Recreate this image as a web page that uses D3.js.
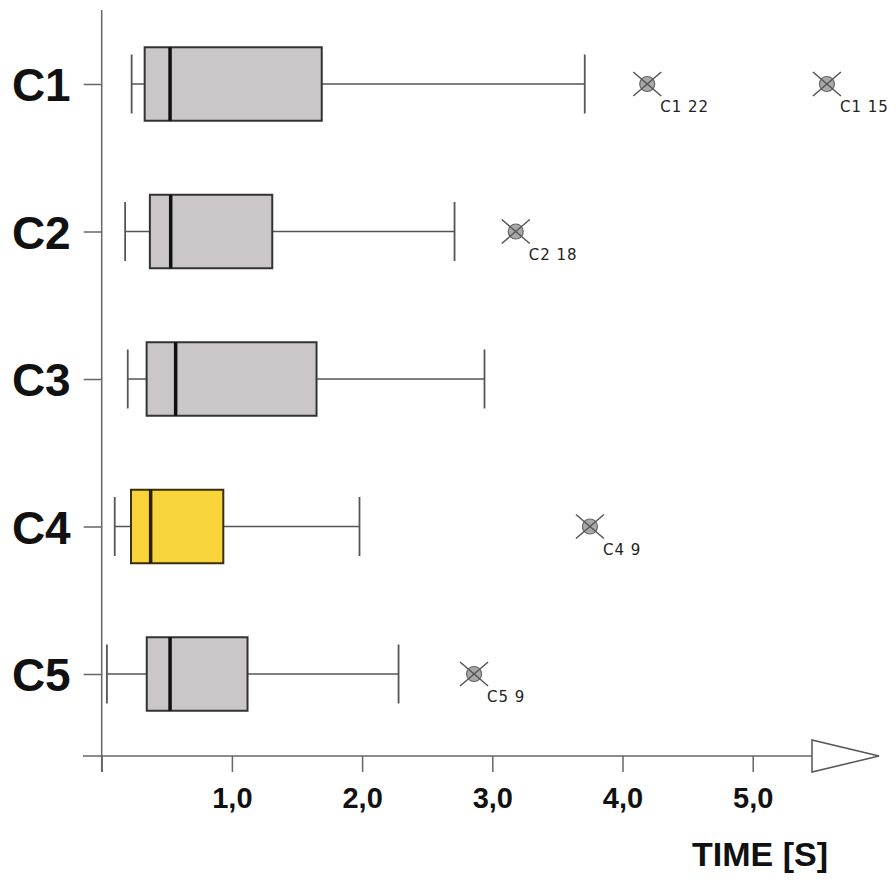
<!DOCTYPE html>
<html>
<head>
<meta charset="utf-8">
<script src="https://cdn.jsdelivr.net/npm/d3@7"></script>
<style>
  html, body { margin: 0; padding: 0; background: #fff; }
  svg { display: block; }
</style>
</head>
<body>
<svg id="chart" width="896" height="886"></svg>
<script>
// ---- data ----
const categories = ["C1", "C2", "C3", "C4", "C5"];
const whiskerLow  = [0.23, 0.18, 0.20, 0.10, 0.04];
const q1          = [0.33, 0.37, 0.345, 0.225, 0.346];
const medians     = [0.525, 0.53, 0.568, 0.376, 0.525];
const q3          = [1.69, 1.31, 1.65, 0.934, 1.12];
const whiskerHigh = [3.71, 2.71, 2.94, 1.98, 2.28];
const outlierCat   = ["C1", "C1", "C2", "C4", "C5"];
const outlierVal   = [4.19, 5.57, 3.18, 3.75, 2.86];
const outlierLabel = ["C1 22", "C1 15", "C2 18", "C4 9", "C5 9"];
const highlighted = ["C4"];
const xTickValues = [0, 1, 2, 3, 4, 5];
const xTickLabels = ["", "1,0", "2,0", "3,0", "4,0", "5,0"];
const xTitle = "TIME [S]";

// ---- layout ----
const svg = d3.select("#chart");
const x = d3.scaleLinear().domain([0, 5]).range([101.7, 752.7]);
const y = d3.scalePoint().domain(categories).range([84, 674]);
const boxH = 73.5, capH = 59;
const axisY = 756;
const axisColor = "#666";

// axes lines
svg.append("line").attr("x1", x(0)).attr("x2", x(0)).attr("y1", 10).attr("y2", 772)
  .attr("stroke", axisColor).attr("stroke-width", 1.5);
svg.append("line").attr("x1", 83).attr("x2", 812).attr("y1", axisY).attr("y2", axisY)
  .attr("stroke", axisColor).attr("stroke-width", 1.5);

// x axis with ticks
const xAxis = d3.axisBottom(x).tickValues(xTickValues)
  .tickFormat((d, i) => xTickLabels[i]).tickSize(16).tickSizeOuter(0);
const gx = svg.append("g").attr("transform", `translate(0,${axisY})`).call(xAxis);
gx.select(".domain").remove();
gx.selectAll(".tick line").attr("stroke", axisColor).attr("stroke-width", 1.5);
gx.selectAll(".tick text")
  .attr("y", 52).attr("dy", 0)
  .attr("fill", "#111")
  .style("font-family", "'Liberation Sans', Arial, sans-serif")
  .style("font-weight", "bold")
  .style("font-size", "29px");

// arrow head
svg.append("path")
  .attr("d", `M812,740 L879,${axisY} L812,772 Z`)
  .attr("fill", "#fff").attr("stroke", "#555").attr("stroke-width", 1.5);

// x title
svg.append("text").attr("x", 828).attr("y", 866).attr("text-anchor", "end")
  .style("font-family", "'Liberation Sans', Arial, sans-serif")
  .style("font-weight", "bold").style("font-size", "34px").attr("fill", "#111")
  .text(xTitle);

// y axis with category ticks
const yAxis = d3.axisLeft(y).tickSize(18).tickSizeOuter(0).tickPadding(13);
const gy = svg.append("g").attr("transform", `translate(${x(0)},0)`).call(yAxis);
gy.select(".domain").remove();
gy.selectAll(".tick line").attr("stroke", axisColor).attr("stroke-width", 1.5);
gy.selectAll(".tick text")
  .attr("dy", "0.36em")
  .attr("fill", "#111")
  .style("font-family", "'Liberation Sans', Arial, sans-serif")
  .style("font-weight", "bold")
  .style("font-size", "46px");

// boxes
const rows = categories.map((c, i) => ({
  c, lo: whiskerLow[i], q1: q1[i], med: medians[i], q3: q3[i], hi: whiskerHigh[i]
}));
const g = svg.append("g");
const row = g.selectAll("g.row").data(rows).join("g").attr("class", "row");

row.append("line").attr("x1", d => x(d.lo)).attr("x2", d => x(d.q1))
  .attr("y1", d => y(d.c)).attr("y2", d => y(d.c)).attr("stroke", "#555").attr("stroke-width", 1.5);
row.append("line").attr("x1", d => x(d.q3)).attr("x2", d => x(d.hi))
  .attr("y1", d => y(d.c)).attr("y2", d => y(d.c)).attr("stroke", "#555").attr("stroke-width", 1.5);
row.append("line").attr("x1", d => x(d.lo)).attr("x2", d => x(d.lo))
  .attr("y1", d => y(d.c) - capH / 2).attr("y2", d => y(d.c) + capH / 2)
  .attr("stroke", "#555").attr("stroke-width", 1.8);
row.append("line").attr("x1", d => x(d.hi)).attr("x2", d => x(d.hi))
  .attr("y1", d => y(d.c) - capH / 2).attr("y2", d => y(d.c) + capH / 2)
  .attr("stroke", "#555").attr("stroke-width", 1.8);
row.append("rect")
  .attr("x", d => x(d.q1)).attr("width", d => x(d.q3) - x(d.q1))
  .attr("y", d => y(d.c) - boxH / 2).attr("height", boxH)
  .attr("fill", d => highlighted.includes(d.c) ? "#F7D43A" : "#CBC6C7")
  .attr("stroke", d => highlighted.includes(d.c) ? "#3a2e10" : "#333")
  .attr("stroke-width", 2);
row.append("line").attr("x1", d => x(d.med)).attr("x2", d => x(d.med))
  .attr("y1", d => y(d.c) - boxH / 2).attr("y2", d => y(d.c) + boxH / 2)
  .attr("stroke", d => highlighted.includes(d.c) ? "#2a1e05" : "#111").attr("stroke-width", 3.5);

// outliers
const outs = outlierVal.map((v, i) => ({ c: outlierCat[i], v, label: outlierLabel[i] }));
const og = g.selectAll("g.out").data(outs).join("g").attr("class", "out")
  .attr("transform", d => `translate(${x(d.v)},${y(d.c)})`);
og.append("circle").attr("r", 7.5).attr("fill", "#a9a9a9").attr("stroke", "#666").attr("stroke-width", 1.2);
og.append("line").attr("x1", -14).attr("y1", -12).attr("x2", 14).attr("y2", 12)
  .attr("stroke", "#555").attr("stroke-width", 1.5);
og.append("line").attr("x1", -14).attr("y1", 12).attr("x2", 14).attr("y2", -12)
  .attr("stroke", "#555").attr("stroke-width", 1.5);
og.append("text").attr("x", 13).attr("y", 28)
  .style("font-family", "'DejaVu Sans', Verdana, sans-serif")
  .style("font-size", "15px").style("letter-spacing", "1px")
  .attr("fill", "#222")
  .text(d => d.label);
</script>
</body>
</html>
